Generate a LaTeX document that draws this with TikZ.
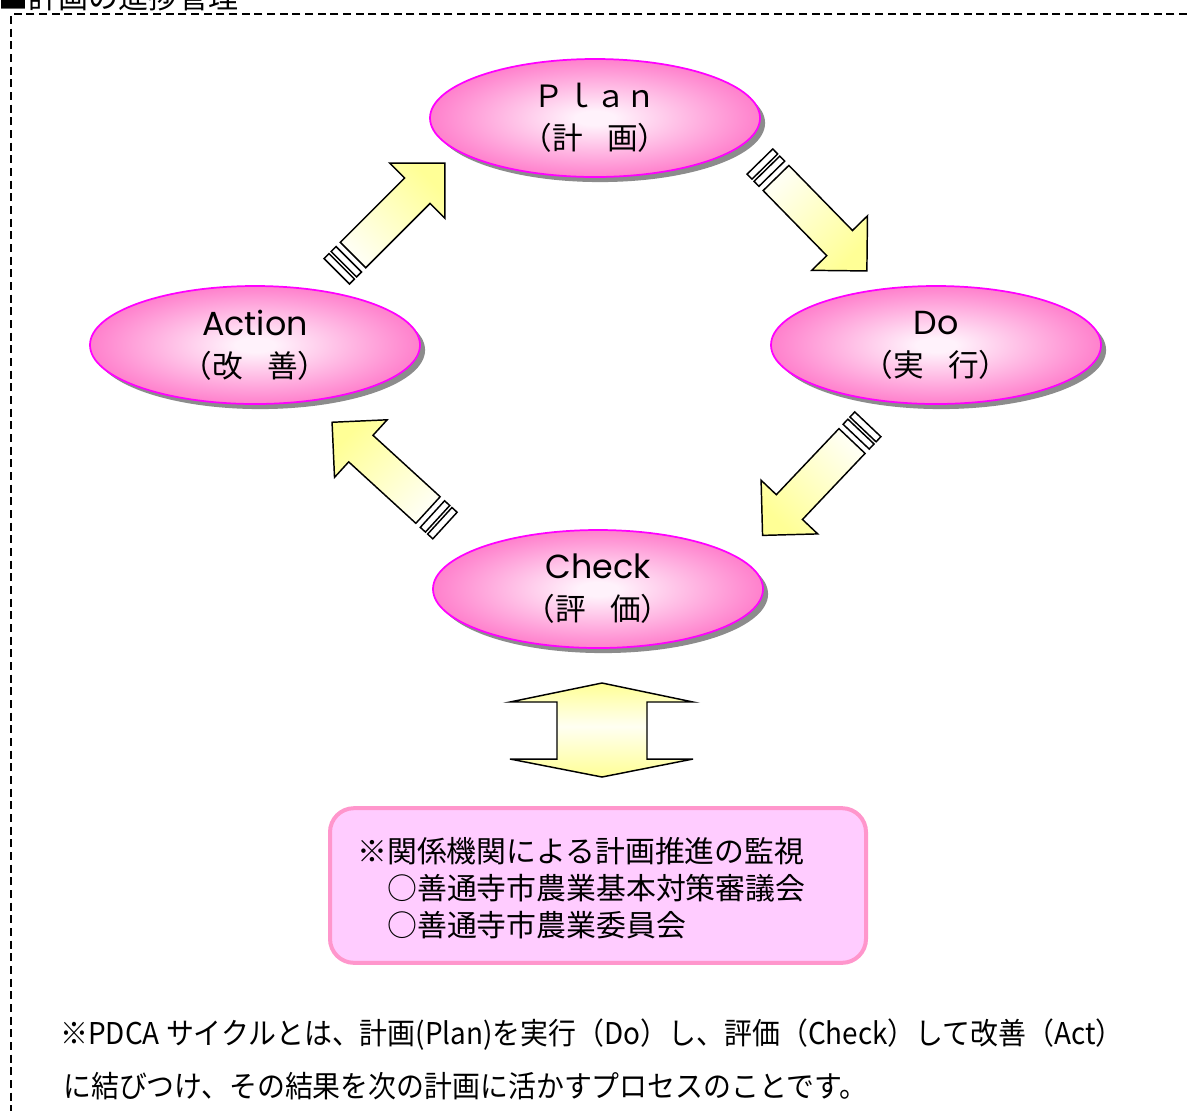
\documentclass[tikz,border=0pt]{standalone}
\usepackage{fontspec}
\usepackage{graphicx}
\setmainfont{Noto Sans CJK JP}
\newfontfamily\latinfont{Poppins}
\usetikzlibrary{shapes.geometric,shadows}
\definecolor{pinkC}{RGB}{255,242,251}
\definecolor{pinkE}{RGB}{255,128,204}
\definecolor{arrY}{RGB}{255,255,150}
\definecolor{arrW}{RGB}{255,255,242}
\definecolor{boxF}{RGB}{255,204,255}
\definecolor{boxB}{RGB}{255,150,204}
\definecolor{ellB}{RGB}{255,0,255}
\pgfdeclareradialshading{pinkrad}{\pgfpoint{0bp}{0bp}}{color(0bp)=(pinkC); color(3bp)=(pinkC); color(25bp)=(pinkE); color(50bp)=(pinkE)}
\pgfdeclareverticalshading{ywy}{100bp}{color(0bp)=(arrY); color(25bp)=(arrY); color(52bp)=(arrW); color(75bp)=(arrY); color(100bp)=(arrY)}
\tikzset{
  arrline/.style={draw=black, line width=1.1pt, line join=miter},
  ell/.style={ellipse, draw=ellB, line width=1.3pt, shade, shading=pinkrad,
    drop shadow={shadow xshift=3.8pt, shadow yshift=-3.8pt, fill=black!45, opacity=1},
    minimum width=247.5pt, minimum height=88.5pt, inner sep=0pt, align=center,
    font=\fontsize{23}{31.5}\selectfont},
  lat/.style={},
  boxtext/.style={anchor=base west, inner sep=0pt, font=\fontsize{22.4}{27}\selectfont},
  note/.style={anchor=base west, inner sep=0pt, font=\fontsize{22.5}{27}\selectfont},
  frame/.style={draw=black, line width=1.1pt, dash pattern=on 6pt off 3.5pt}
}
\newcommand\latw[1]{{\latinfont\fontsize{25}{31.5}\selectfont #1}}
\newcommand\blockarr[5]{%
\begin{scope}[shift={(#1,#2)}, x={({#3*0.75pt},{-#4*0.75pt})}, y={({-#4*0.75pt},{-#3*0.75pt})}]
\draw[arrline, top color=arrY, bottom color=arrW, shading angle=#5] (0,-18) -- (91,-18) -- (91,-39) -- (130,0) -- (91,39) -- (91,18) -- (0,18) -- cycle;
\draw[arrline, fill=white] (-13,-18) -- (-6,-18) -- (-6,18) -- (-13,18) -- cycle;
\draw[arrline, fill=white] (-23,-18) -- (-16,-18) -- (-16,18) -- (-23,18) -- cycle;
\end{scope}}
\begin{document}
\begin{tikzpicture}[x=0.75pt,y=-0.75pt]
\useasboundingbox[fill=white] (0,0) rectangle (1187,1111);
\clip (0,0) rectangle (1187,1111);
% title (cut off at the top, as in the source)
\node[note] (title) at (-2,8) {■計画の進捗管理};
% dashed frame
\draw[frame] (1187,14) -- (11,14) -- (11,1111);
% ellipses
\node[ell] (plan) at (595,118) {Ｐｌａｎ\\（計\hspace{0.8em}画）};
\node[ell] (act) at (255,345) {\latw{Action}\\（改\hspace{0.8em}善）};
\node[ell] (do) at (936,345) {\latw{Do}\\（実\hspace{0.8em}行）};
\node[ell] (chk) at (598,589) {\latw{Check}\\（評\hspace{0.8em}価）};
% block arrows: tail x, tail y, unit direction, shading angle
\blockarr{776}{178}{0.699}{0.715}{-135}
\blockarr{852}{441}{-0.688}{0.726}{135}
\blockarr{428}{510}{-0.738}{-0.675}{45}
\blockarr{353}{255}{0.707}{-0.707}{-45}
% double arrow
\draw[arrline, shade, shading=ywy] (602,683) -- (693,702) -- (647,702) -- (647,759) -- (693,759) -- (602,777) -- (510,759) -- (557,759) -- (557,702) -- (510,702) -- cycle;
% box
\node[draw=boxB, line width=3pt, fill=boxF, rounded corners=18pt, minimum width=402pt, minimum height=116pt] (box) at (598,885.5) {};
\node[boxtext] (b1) at (357,862) {※関係機関による計画推進の監視};
\node[boxtext] (b2) at (387,899) {○善通寺市農業基本対策審議会};
\node[boxtext] (b3) at (387,936) {○善通寺市農業委員会};
% note
\node[note] (n1) at (60,1044) {\scalebox{0.93}[1]{※PDCA サイクルとは、計画(Plan)を実行（Do）し、評価（Check）して改善（Act）}};
\node[note] (n2) at (63,1097) {\scalebox{0.93}[1]{に結びつけ、その結果を次の計画に活かすプロセスのことです。}};
\end{tikzpicture}
\end{document}
